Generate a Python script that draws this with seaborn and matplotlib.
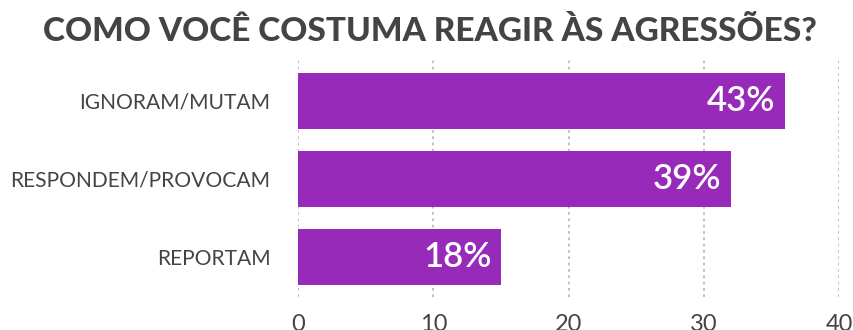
import matplotlib
matplotlib.use("Agg")
import matplotlib.pyplot as plt
import seaborn as sns
import pandas as pd

categories = ["IGNORAM/MUTAM", "RESPONDEM/PROVOCAM", "REPORTAM"]
values = [36, 32, 15]
pct_labels = ["43%", "39%", "18%"]
x_ticks = [0, 10, 20, 30, 40]
title = "COMO VOCÊ COSTUMA REAGIR ÀS AGRESSÕES?"

BAR = "#982ab9"
TXT = "#444444"

sns.set_theme(style="white")
plt.rcParams["font.family"] = ["Lato", "DejaVu Sans"]

df = pd.DataFrame({"cat": categories, "val": values})

fig = plt.figure(figsize=(8.54, 3.30), dpi=100)
ax = fig.add_axes([0.349, 0.10, 0.6334, 0.721])

sns.barplot(data=df, x="val", y="cat", orient="h", color=BAR, saturation=1,
            width=0.715, ax=ax, edgecolor="none")

ax.set_xlim(0, 40)
ax.set_ylim(2.51, -0.53)
ax.set_xticks(x_ticks)
ax.set_xticklabels([str(t) for t in x_ticks])
ax.set_xlabel("")
ax.set_ylabel("")
for s in ax.spines.values():
    s.set_visible(False)
ax.grid(axis="x", linestyle=(0, (1.5, 2.0)), color="#bbbbbb", linewidth=1.3)
ax.grid(axis="y", visible=False)
ax.set_axisbelow(True)
ax.tick_params(axis="x", length=0, pad=12, labelsize=17, labelcolor=TXT)
ax.tick_params(axis="y", length=0, pad=20, labelsize=15.1, labelcolor=TXT)
for lab in ax.get_xticklabels() + ax.get_yticklabels():
    lab.set_fontweight("normal")
    lab.set_color(TXT)

for i, (v, t) in enumerate(zip(values, pct_labels)):
    ax.text(v - 0.7, i, t, ha="right", va="center", color="white",
            fontsize=25, fontweight="semibold")

fig.text(0.503, 0.875, title, ha="center", va="baseline", color=TXT,
         fontsize=24, fontweight="black")

fig.savefig("out.png", dpi=100)
